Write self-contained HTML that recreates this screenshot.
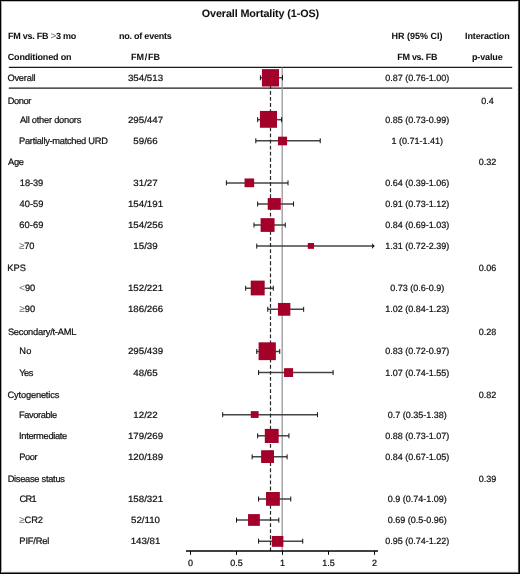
<!DOCTYPE html>
<html><head><meta charset="utf-8"><style>
html,body{margin:0;padding:0;background:#fff;}
body{width:520px;height:574px;overflow:hidden;}
.wrap{position:relative;width:520px;height:574px;box-sizing:border-box;border:1px solid #000;}
svg{position:absolute;left:0;top:0;will-change:transform;}
text{font-family:"Liberation Sans",sans-serif;fill:#111;text-rendering:geometricPrecision;font-kerning:normal;stroke:#111;stroke-width:0.22px;}
text[font-weight=bold]{stroke-width:0.05px;}
.sym{fill:#666;stroke:none;font-size:10px;font-weight:normal;}
</style></head><body><div class="wrap"></div>
<svg width="520" height="574" viewBox="0 0 520 574">
<line x1="8.8" y1="67.45" x2="512.2" y2="67.45" stroke="#1a1a1a" stroke-width="1.25"/>
<line x1="8.8" y1="88.2" x2="512.2" y2="88.2" stroke="#1a1a1a" stroke-width="1.25"/>
<line x1="282.2" y1="67.5" x2="282.2" y2="551" stroke="#999" stroke-width="1.3"/>
<line x1="260.42" y1="77.75" x2="282.50" y2="77.75" stroke="#444" stroke-width="1.5"/>
<line x1="282.50" y1="75.25" x2="282.50" y2="80.25" stroke="#111" stroke-width="1"/>
<line x1="260.42" y1="75.25" x2="260.42" y2="80.25" stroke="#111" stroke-width="1"/>
<line x1="257.66" y1="119.67" x2="281.58" y2="119.67" stroke="#444" stroke-width="1.5"/>
<line x1="281.58" y1="117.17" x2="281.58" y2="122.17" stroke="#111" stroke-width="1"/>
<line x1="257.66" y1="117.17" x2="257.66" y2="122.17" stroke="#111" stroke-width="1"/>
<line x1="255.82" y1="140.74" x2="320.22" y2="140.74" stroke="#444" stroke-width="1.5"/>
<line x1="320.22" y1="138.24" x2="320.22" y2="143.24" stroke="#111" stroke-width="1"/>
<line x1="255.82" y1="138.24" x2="255.82" y2="143.24" stroke="#111" stroke-width="1"/>
<line x1="226.38" y1="182.89" x2="288.02" y2="182.89" stroke="#444" stroke-width="1.5"/>
<line x1="288.02" y1="180.39" x2="288.02" y2="185.39" stroke="#111" stroke-width="1"/>
<line x1="226.38" y1="180.39" x2="226.38" y2="185.39" stroke="#111" stroke-width="1"/>
<line x1="257.66" y1="203.97" x2="293.54" y2="203.97" stroke="#444" stroke-width="1.5"/>
<line x1="293.54" y1="201.47" x2="293.54" y2="206.47" stroke="#111" stroke-width="1"/>
<line x1="257.66" y1="201.47" x2="257.66" y2="206.47" stroke="#111" stroke-width="1"/>
<line x1="253.98" y1="225.04" x2="285.26" y2="225.04" stroke="#444" stroke-width="1.5"/>
<line x1="285.26" y1="222.54" x2="285.26" y2="227.54" stroke="#111" stroke-width="1"/>
<line x1="253.98" y1="222.54" x2="253.98" y2="227.54" stroke="#111" stroke-width="1"/>
<line x1="256.74" y1="246.11" x2="373.00" y2="246.11" stroke="#444" stroke-width="1.5"/>
<path d="M371.90 243.31 Q374.10 245.51 374.80 246.11 Q374.10 246.71 371.90 248.91 Q372.90 246.11 371.90 243.31Z" fill="#111"/>
<line x1="256.74" y1="243.61" x2="256.74" y2="248.61" stroke="#111" stroke-width="1"/>
<line x1="245.70" y1="288.26" x2="273.30" y2="288.26" stroke="#444" stroke-width="1.5"/>
<line x1="273.30" y1="285.76" x2="273.30" y2="290.76" stroke="#111" stroke-width="1"/>
<line x1="245.70" y1="285.76" x2="245.70" y2="290.76" stroke="#111" stroke-width="1"/>
<line x1="267.78" y1="309.34" x2="303.66" y2="309.34" stroke="#444" stroke-width="1.5"/>
<line x1="303.66" y1="306.84" x2="303.66" y2="311.84" stroke="#111" stroke-width="1"/>
<line x1="267.78" y1="306.84" x2="267.78" y2="311.84" stroke="#111" stroke-width="1"/>
<line x1="256.74" y1="351.48" x2="279.74" y2="351.48" stroke="#444" stroke-width="1.5"/>
<line x1="279.74" y1="348.98" x2="279.74" y2="353.98" stroke="#111" stroke-width="1"/>
<line x1="256.74" y1="348.98" x2="256.74" y2="353.98" stroke="#111" stroke-width="1"/>
<line x1="258.58" y1="372.56" x2="333.10" y2="372.56" stroke="#444" stroke-width="1.5"/>
<line x1="333.10" y1="370.06" x2="333.10" y2="375.06" stroke="#111" stroke-width="1"/>
<line x1="258.58" y1="370.06" x2="258.58" y2="375.06" stroke="#111" stroke-width="1"/>
<line x1="222.70" y1="414.71" x2="317.46" y2="414.71" stroke="#444" stroke-width="1.5"/>
<line x1="317.46" y1="412.21" x2="317.46" y2="417.21" stroke="#111" stroke-width="1"/>
<line x1="222.70" y1="412.21" x2="222.70" y2="417.21" stroke="#111" stroke-width="1"/>
<line x1="257.66" y1="435.78" x2="288.94" y2="435.78" stroke="#444" stroke-width="1.5"/>
<line x1="288.94" y1="433.28" x2="288.94" y2="438.28" stroke="#111" stroke-width="1"/>
<line x1="257.66" y1="433.28" x2="257.66" y2="438.28" stroke="#111" stroke-width="1"/>
<line x1="252.14" y1="456.85" x2="287.10" y2="456.85" stroke="#444" stroke-width="1.5"/>
<line x1="287.10" y1="454.35" x2="287.10" y2="459.35" stroke="#111" stroke-width="1"/>
<line x1="252.14" y1="454.35" x2="252.14" y2="459.35" stroke="#111" stroke-width="1"/>
<line x1="258.58" y1="499.00" x2="290.78" y2="499.00" stroke="#444" stroke-width="1.5"/>
<line x1="290.78" y1="496.50" x2="290.78" y2="501.50" stroke="#111" stroke-width="1"/>
<line x1="258.58" y1="496.50" x2="258.58" y2="501.50" stroke="#111" stroke-width="1"/>
<line x1="236.50" y1="520.08" x2="278.82" y2="520.08" stroke="#444" stroke-width="1.5"/>
<line x1="278.82" y1="517.58" x2="278.82" y2="522.58" stroke="#111" stroke-width="1"/>
<line x1="236.50" y1="517.58" x2="236.50" y2="522.58" stroke="#111" stroke-width="1"/>
<line x1="258.58" y1="541.15" x2="302.74" y2="541.15" stroke="#444" stroke-width="1.5"/>
<line x1="302.74" y1="538.65" x2="302.74" y2="543.65" stroke="#111" stroke-width="1"/>
<line x1="258.58" y1="538.65" x2="258.58" y2="543.65" stroke="#111" stroke-width="1"/>
<line x1="270.5" y1="84.79" x2="270.5" y2="551" stroke="#262626" stroke-width="1.2" stroke-dasharray="3.85 2.238"/>
<rect x="261.92" y="69.14" width="17.08" height="17.36" fill="#a3002a"/>
<rect x="259.92" y="110.92" width="17.08" height="16.85" fill="#a3002a"/>
<rect x="277.98" y="136.67" width="9.10" height="8.65" fill="#a3002a"/>
<rect x="244.54" y="178.46" width="9.61" height="8.74" fill="#a3002a"/>
<rect x="267.73" y="198.08" width="13.07" height="11.72" fill="#a3002a"/>
<rect x="260.60" y="218.17" width="13.95" height="13.73" fill="#a3002a"/>
<rect x="307.77" y="243.00" width="6.31" height="5.85" fill="#a3002a"/>
<rect x="250.72" y="280.60" width="13.96" height="14.80" fill="#a3002a"/>
<rect x="277.96" y="302.96" width="12.39" height="12.77" fill="#a3002a"/>
<rect x="258.60" y="342.32" width="17.26" height="17.82" fill="#a3002a"/>
<rect x="284.08" y="368.15" width="9.00" height="8.83" fill="#a3002a"/>
<rect x="250.77" y="411.15" width="7.83" height="6.77" fill="#a3002a"/>
<rect x="264.81" y="428.89" width="13.87" height="14.09" fill="#a3002a"/>
<rect x="261.10" y="450.23" width="12.90" height="12.77" fill="#a3002a"/>
<rect x="266.02" y="492.02" width="13.83" height="13.75" fill="#a3002a"/>
<rect x="248.04" y="514.12" width="11.81" height="11.73" fill="#a3002a"/>
<rect x="271.85" y="535.96" width="11.53" height="10.84" fill="#a3002a"/>
<line x1="186" y1="550.9" x2="378" y2="550.9" stroke="#000" stroke-width="1.5"/>
<line x1="190.50" y1="551" x2="190.50" y2="554.8" stroke="#000" stroke-width="1"/>
<line x1="236.50" y1="551" x2="236.50" y2="554.8" stroke="#000" stroke-width="1"/>
<line x1="282.50" y1="551" x2="282.50" y2="554.8" stroke="#000" stroke-width="1"/>
<line x1="328.50" y1="551" x2="328.50" y2="554.8" stroke="#000" stroke-width="1"/>
<line x1="374.50" y1="551" x2="374.50" y2="554.8" stroke="#000" stroke-width="1"/>
<line x1="1.5" y1="1" x2="1.5" y2="573" stroke="#aaa" stroke-width="1"/>
<line x1="1" y1="1.5" x2="519" y2="1.5" stroke="#bbb" stroke-width="1"/>
<line x1="518.5" y1="1" x2="518.5" y2="573" stroke="#505050" stroke-width="1"/>
<line x1="517.5" y1="1" x2="517.5" y2="572" stroke="#f2f2f2" stroke-width="1"/>
<line x1="1" y1="572.5" x2="518" y2="572.5" stroke="#777" stroke-width="1"/>
<line x1="1" y1="571.5" x2="517" y2="571.5" stroke="#f0f0f0" stroke-width="1"/>
<text x="201.70" y="16.75" font-weight="bold" font-size="10.8" textLength="117.500" lengthAdjust="spacing">Overall Mortality (1-OS)</text>
<text x="8.00" y="38.70" font-weight="bold" font-size="9.0" textLength="68.325" lengthAdjust="spacing">FM vs. FB <tspan class="sym">&gt;</tspan>3 mo</text>
<text x="119.00" y="38.70" font-weight="bold" font-size="9.0" textLength="52.716" lengthAdjust="spacing">no. of events</text>
<text x="391.50" y="38.70" font-weight="bold" font-size="9.0" textLength="51.116" lengthAdjust="spacing">HR (95% CI)</text>
<text x="465.10" y="38.70" font-weight="bold" font-size="9.0" textLength="44.566" lengthAdjust="spacing">Interaction</text>
<text x="7.75" y="59.70" font-weight="bold" font-size="9.0" textLength="63.734" lengthAdjust="spacing">Conditioned on</text>
<text x="145.5" y="59.7" text-anchor="middle" font-weight="bold" font-size="9">FM<tspan dx="0.7">/</tspan><tspan dx="0.9">FB</tspan></text>
<text x="397.30" y="59.70" font-weight="bold" font-size="9.0" textLength="40.116" lengthAdjust="spacing">FM vs. FB</text>
<text x="471.90" y="59.70" font-weight="bold" font-size="9.0" textLength="30.816" lengthAdjust="spacing">p-value</text>
<text x="7.40" y="80.75" font-size="9.3" textLength="28.253" lengthAdjust="spacing">Overall</text>
<text x="145.50" y="80.75" text-anchor="middle" font-size="9.0" transform="matrix(1.08,0,0,1,-11.640,0)">354/513</text>
<text x="417.20" y="80.75" text-anchor="middle" font-size="9.0">0.87 (0.76-1.00)</text>
<text x="7.65" y="103.80" font-size="9.3" textLength="23.778" lengthAdjust="spacing">Donor</text>
<text x="487.40" y="103.80" text-anchor="middle" font-size="9.0">0.4</text>
<text x="7.90" y="165.30" font-size="9.3" textLength="16.097" lengthAdjust="spacing">Age</text>
<text x="487.40" y="165.30" text-anchor="middle" font-size="9.0">0.32</text>
<text x="7.35" y="271.10" font-size="9.3" textLength="18.609" lengthAdjust="spacing">KPS</text>
<text x="487.40" y="271.10" text-anchor="middle" font-size="9.0">0.06</text>
<text x="7.90" y="334.70" font-size="9.3" textLength="68.428" lengthAdjust="spacing">Secondary/t-AML</text>
<text x="487.40" y="334.70" text-anchor="middle" font-size="9.0">0.28</text>
<text x="7.50" y="397.80" font-size="9.3" textLength="51.800" lengthAdjust="spacing">Cytogenetics</text>
<text x="487.40" y="397.80" text-anchor="middle" font-size="9.0">0.82</text>
<text x="7.65" y="481.55" font-size="9.3" textLength="57.284" lengthAdjust="spacing">Disease status</text>
<text x="487.40" y="481.55" text-anchor="middle" font-size="9.0">0.39</text>
<text x="19.90" y="122.67" font-size="9.3" textLength="61.425" lengthAdjust="spacing">All other donors</text>
<text x="145.50" y="122.67" text-anchor="middle" font-size="9.0" transform="matrix(1.08,0,0,1,-11.640,0)">295/447</text>
<text x="417.20" y="122.67" text-anchor="middle" font-size="9.0">0.85 (0.73-0.99)</text>
<text x="19.05" y="143.74" font-size="9.3" textLength="88.797" lengthAdjust="spacing">Partially-matched URD</text>
<text x="145.50" y="143.74" text-anchor="middle" font-size="9.0" transform="matrix(1.08,0,0,1,-11.640,0)">59/66</text>
<text x="417.20" y="143.74" text-anchor="middle" font-size="9.0">1 (0.71-1.41)</text>
<text x="19.85" y="185.89" font-size="9.3" textLength="23.431" lengthAdjust="spacing">18-39</text>
<text x="145.50" y="185.89" text-anchor="middle" font-size="9.0" transform="matrix(1.08,0,0,1,-11.640,0)">31/27</text>
<text x="417.20" y="185.89" text-anchor="middle" font-size="9.0">0.64 (0.39-1.06)</text>
<text x="19.55" y="206.97" font-size="9.3" textLength="23.831" lengthAdjust="spacing">40-59</text>
<text x="145.50" y="206.97" text-anchor="middle" font-size="9.0" transform="matrix(1.08,0,0,1,-11.640,0)">154/191</text>
<text x="417.20" y="206.97" text-anchor="middle" font-size="9.0">0.91 (0.73-1.12)</text>
<text x="19.30" y="228.04" font-size="9.3" textLength="24.081" lengthAdjust="spacing">60-69</text>
<text x="145.50" y="228.04" text-anchor="middle" font-size="9.0" transform="matrix(1.08,0,0,1,-11.640,0)">154/256</text>
<text x="417.20" y="228.04" text-anchor="middle" font-size="9.0">0.84 (0.69-1.03)</text>
<text x="19.00" y="249.11" font-size="9.3" textLength="15.444" lengthAdjust="spacing"><tspan class="sym">≥</tspan>70</text>
<text x="145.50" y="249.11" text-anchor="middle" font-size="9.0" transform="matrix(1.08,0,0,1,-11.640,0)">15/39</text>
<text x="417.20" y="249.11" text-anchor="middle" font-size="9.0">1.31 (0.72-2.39)</text>
<text x="19.17" y="291.26" font-size="9.3" textLength="16.077" lengthAdjust="spacing"><tspan class="sym">&lt;</tspan>90</text>
<text x="145.50" y="291.26" text-anchor="middle" font-size="9.0" transform="matrix(1.08,0,0,1,-11.640,0)">152/221</text>
<text x="417.20" y="291.26" text-anchor="middle" font-size="9.0">0.73 (0.6-0.9)</text>
<text x="19.17" y="312.34" font-size="9.3" textLength="15.984" lengthAdjust="spacing"><tspan class="sym">≥</tspan>90</text>
<text x="145.50" y="312.34" text-anchor="middle" font-size="9.0" transform="matrix(1.08,0,0,1,-11.640,0)">186/266</text>
<text x="417.20" y="312.34" text-anchor="middle" font-size="9.0">1.02 (0.84-1.23)</text>
<text x="19.25" y="354.48" font-size="9.3" textLength="12.141" lengthAdjust="spacing">No</text>
<text x="145.50" y="354.48" text-anchor="middle" font-size="9.0" transform="matrix(1.08,0,0,1,-11.640,0)">295/439</text>
<text x="417.20" y="354.48" text-anchor="middle" font-size="9.0">0.83 (0.72-0.97)</text>
<text x="19.30" y="375.56" font-size="9.3" textLength="14.072" lengthAdjust="spacing">Yes</text>
<text x="145.50" y="375.56" text-anchor="middle" font-size="9.0" transform="matrix(1.08,0,0,1,-11.640,0)">48/65</text>
<text x="417.20" y="375.56" text-anchor="middle" font-size="9.0">1.07 (0.74-1.55)</text>
<text x="19.05" y="417.71" font-size="9.3" textLength="38.094" lengthAdjust="spacing">Favorable</text>
<text x="145.50" y="417.71" text-anchor="middle" font-size="9.0" transform="matrix(1.08,0,0,1,-11.640,0)">12/22</text>
<text x="417.20" y="417.71" text-anchor="middle" font-size="9.0">0.7 (0.35-1.38)</text>
<text x="19.05" y="438.78" font-size="9.3" textLength="48.238" lengthAdjust="spacing">Intermediate</text>
<text x="145.50" y="438.78" text-anchor="middle" font-size="9.0" transform="matrix(1.08,0,0,1,-11.640,0)">179/269</text>
<text x="417.20" y="438.78" text-anchor="middle" font-size="9.0">0.88 (0.73-1.07)</text>
<text x="19.25" y="459.85" font-size="9.3" textLength="18.291" lengthAdjust="spacing">Poor</text>
<text x="145.50" y="459.85" text-anchor="middle" font-size="9.0" transform="matrix(1.08,0,0,1,-11.640,0)">120/189</text>
<text x="417.20" y="459.85" text-anchor="middle" font-size="9.0">0.84 (0.67-1.05)</text>
<text x="19.40" y="502.00" font-size="9.3" textLength="17.309" lengthAdjust="spacing">CR1</text>
<text x="145.50" y="502.00" text-anchor="middle" font-size="9.0" transform="matrix(1.08,0,0,1,-11.640,0)">158/321</text>
<text x="417.20" y="502.00" text-anchor="middle" font-size="9.0">0.9 (0.74-1.09)</text>
<text x="19.20" y="523.08" font-size="9.3" textLength="23.759" lengthAdjust="spacing"><tspan class="sym">≥</tspan>CR2</text>
<text x="145.50" y="523.08" text-anchor="middle" font-size="9.0" transform="matrix(1.08,0,0,1,-11.640,0)">52/110</text>
<text x="417.20" y="523.08" text-anchor="middle" font-size="9.0">0.69 (0.5-0.96)</text>
<text x="19.35" y="544.15" font-size="9.3" textLength="30.050" lengthAdjust="spacing">PIF/Rel</text>
<text x="145.50" y="544.15" text-anchor="middle" font-size="9.0" transform="matrix(1.08,0,0,1,-11.640,0)">143/81</text>
<text x="417.20" y="544.15" text-anchor="middle" font-size="9.0">0.95 (0.74-1.22)</text>
<text x="190.50" y="565.90" text-anchor="middle" font-size="9.0">0</text>
<text x="236.50" y="565.90" text-anchor="middle" font-size="9.0">0.5</text>
<text x="282.50" y="565.90" text-anchor="middle" font-size="9.0">1</text>
<text x="328.50" y="565.90" text-anchor="middle" font-size="9.0">1.5</text>
<text x="374.50" y="565.90" text-anchor="middle" font-size="9.0">2</text>
</svg>
</body></html>
